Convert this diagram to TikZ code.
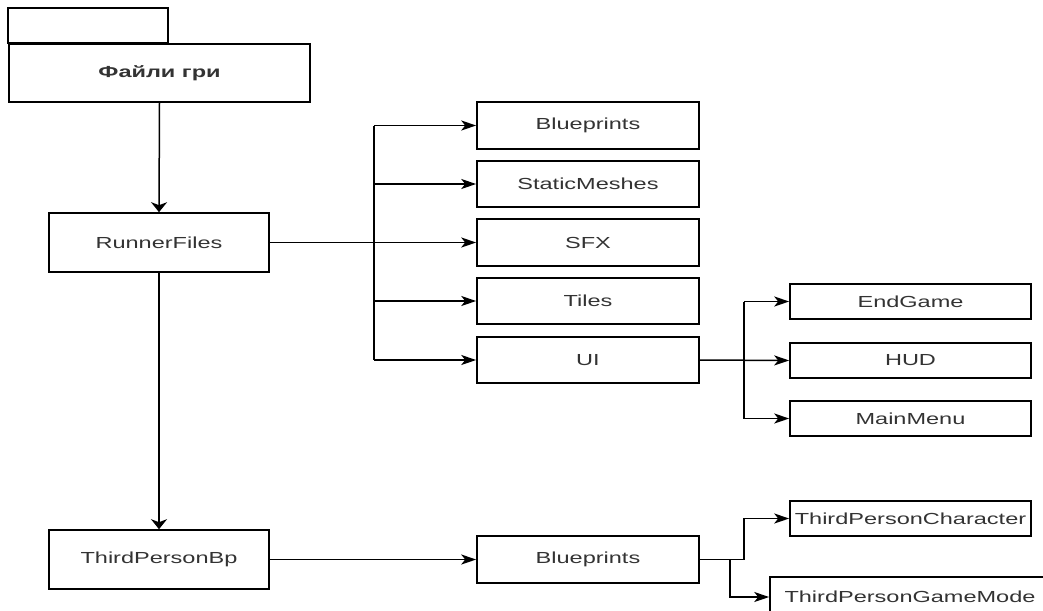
\documentclass[tikz,border=0pt]{standalone}
\usepackage{fontspec}
\setmainfont[FakeStretch=1.47]{Liberation Sans}
\usetikzlibrary{arrows.meta,calc}
\begin{document}
\begin{tikzpicture}[x=1pt,y=-1pt,
  box/.style={draw=black,line width=1.6pt,inner sep=0pt,text=black!80,
    font=\fontsize{16}{19}\selectfont},
  line/.style={draw=black,line width=1.5pt},
  harrow/.style={line,-{Stealth[length=15pt,width=10pt,inset=4pt]}},
  varrow/.style={line,-{Stealth[length=10pt,width=16pt,inset=3pt]}}]
\clip (0,0) rectangle (1043,610);
\fill[white] (0,0) rectangle (1043,610);
% folder
\node[box,minimum width=301,minimum height=58,font=\fontsize{16}{19}\selectfont\bfseries] (files) at (159.5,73) {Файли гри};
\draw[line,line width=1.6pt] (files.north west) rectangle ++(160,-35);
% left column
\node[box,minimum width=220,minimum height=59] (rf) at (159,242.5) {RunnerFiles};
\node[box,minimum width=220,minimum height=59] (tpb) at (159,559.5) {ThirdPersonBp};
% middle column
\node[box,minimum width=222,minimum height=47] (bp1) at (588,125.5) {Blueprints};
\node[box,minimum width=222,minimum height=46] (sm) at (588,184) {StaticMeshes};
\node[box,minimum width=222,minimum height=47] (sfx) at (588,242.5) {SFX};
\node[box,minimum width=222,minimum height=46] (tiles) at (588,301) {Tiles};
\node[box,minimum width=222,minimum height=46] (ui) at (588,360) {UI};
\node[box,minimum width=222,minimum height=47] (bp2) at (588,559.5) {Blueprints};
% right column
\node[box,minimum width=241,minimum height=35] (eg) at (910.5,301.5) {EndGame};
\node[box,minimum width=241,minimum height=35] (hud) at (910.5,360.5) {HUD};
\node[box,minimum width=241,minimum height=35] (mm) at (910.5,418.5) {MainMenu};
\node[box,minimum width=241,minimum height=35] (tpc) at (910.5,518.5) {ThirdPersonCharacter};
\node[box,minimum width=280,minimum height=40] (tpgm) at (910,597) {ThirdPersonGameMode};
% connectors
\draw[varrow] (files.south) -- (rf.north);
\draw[varrow] (rf.south) -- (tpb.north);
\coordinate (bus) at (374,242.5);
\draw[line] (bus |- bp1.west) -- (bus |- ui.west);
\draw[harrow] (rf.east) -- (sfx.west);
\draw[harrow] (bus |- bp1.west) -- (bp1.west);
\draw[harrow] (bus |- sm.west) -- (sm.west);
\draw[harrow] (bus |- tiles.west) -- (tiles.west);
\draw[harrow] (bus |- ui.west) -- (ui.west);
\coordinate (bus2) at (744,360);
\draw[line] (bus2 |- eg.west) -- (bus2 |- mm.west);
\draw[harrow] (ui.east) -- (hud.west);
\draw[harrow] (bus2 |- eg.west) -- (eg.west);
\draw[harrow] (bus2 |- mm.west) -- (mm.west);
\draw[harrow] (tpb.east) -- (bp2.west);
\coordinate (j1) at (744,559.5);
\coordinate (j2) at (730,559.5);
\draw[harrow] (bp2.east) -- (j1) |- (tpc.west);
\draw[harrow] (j2) |- (tpgm.west);
\end{tikzpicture}
\end{document}
